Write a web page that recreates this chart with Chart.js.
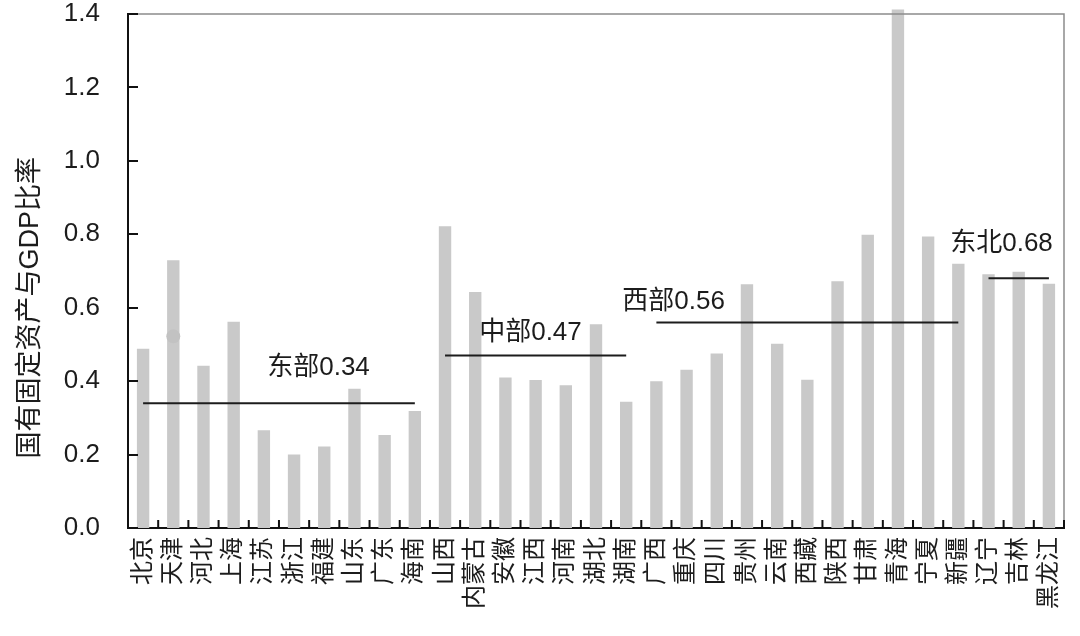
<!DOCTYPE html>
<html>
<head>
<meta charset="utf-8">
<script src="https://cdn.jsdelivr.net/npm/chart.js@4.4.1/dist/chart.umd.min.js"></script>
<style>
  html, body { margin: 0; padding: 0; background: #ffffff; }
  #wrap { width: 1080px; height: 636px; position: relative; }
</style>
</head>
<body>
<div id="wrap"><canvas id="chart" width="1080" height="636"></canvas></div>
<script>
// Provinces in regional order
const provinces = ['北京','天津','河北','上海','江苏','浙江','福建','山东','广东','海南',
  '山西','内蒙古','安徽','江西','河南','湖北','湖南',
  '广西','重庆','四川','贵州','云南','西藏','陕西','甘肃','青海','宁夏','新疆',
  '辽宁','吉林','黑龙江'];

// State-owned fixed assets / GDP
const ratios = [0.488,0.729,0.442,0.562,0.266,0.200,0.222,0.379,0.253,0.319,
  0.822,0.643,0.410,0.403,0.389,0.555,0.344,
  0.400,0.431,0.475,0.664,0.502,0.404,0.672,0.799,1.412,0.794,0.720,
  0.691,0.698,0.665];

// Region of each province (index into regionNames)
const regionOf = [0,0,0,0,0,0,0,0,0,0, 1,1,1,1,1,1,1, 2,2,2,2,2,2,2,2,2,2,2, 3,3,3];
const regionNames = ['东部','中部','西部','东北'];
const regionMeans = [0.34,0.47,0.56,0.68];

// Single marker drawn over the 天津 bar
const markerValues = [null,0.522];

const yTickValues = [0,0.2,0.4,0.6,0.8,1.0,1.2,1.4];

const FONT = "'Liberation Sans', 'Noto Sans CJK SC', sans-serif";
const INK = '#1c1c1c';

// One horizontal segment per region, spanning that region's provinces
const regionDatasets = regionMeans.map((m, r) => ({
  type: 'line',
  label: regionNames[r],
  data: provinces.map((_, i) => regionOf[i] === r ? m : null),
  borderColor: INK,
  borderWidth: 2,
  pointRadius: 0,
  spanGaps: false,
  order: 0
}));

// Where each region caption sits (category position, value)
const captionSpots = [
  { x: 5.81, y: 0.437 },
  { x: 12.83, y: 0.532 },
  { x: 17.57, y: 0.615 },
  { x: 28.43, y: 0.773 }
];

const decorPlugin = {
  id: 'decor',
  afterDatasetsDraw(chart) {
    const { ctx, chartArea: a, scales: { x, y } } = chart;
    ctx.save();
    // frame: top and right sides
    ctx.strokeStyle = '#8c8c8c';
    ctx.lineWidth = 1.5;
    ctx.beginPath();
    ctx.moveTo(a.left, a.top);
    ctx.lineTo(a.right, a.top);
    ctx.lineTo(a.right, a.bottom);
    ctx.stroke();

    // inward tick marks
    ctx.strokeStyle = '#111';
    ctx.lineWidth = 2;
    ctx.beginPath();
    yTickValues.forEach(v => {
      const py = Math.round(y.getPixelForValue(v));
      ctx.moveTo(a.left, py);
      ctx.lineTo(a.left + 10, py);
    });
    for (let i = 1; i <= provinces.length; i++) {
      const px = x.getPixelForValue(i - 0.5);
      ctx.moveTo(px, a.bottom);
      ctx.lineTo(px, a.bottom - 8);
    }
    ctx.stroke();

    // region captions
    ctx.fillStyle = INK;
    ctx.font = '26px ' + FONT;
    ctx.textAlign = 'center';
    ctx.textBaseline = 'middle';
    captionSpots.forEach((s, r) => {
      ctx.fillText(regionNames[r] + regionMeans[r].toFixed(2),
        x.getPixelForValue(s.x), y.getPixelForValue(s.y));
    });

    // y-axis title
    ctx.translate(31, y.getPixelForValue(0.6));
    ctx.rotate(-Math.PI / 2);
    ctx.font = '27px ' + FONT;
    ctx.fillText('国有固定资产与GDP比率', 0, 0);
    ctx.restore();
  }
};

new Chart(document.getElementById('chart'), {
  type: 'bar',
  data: {
    labels: provinces,
    datasets: [
      {
        label: '国有固定资产与GDP比率',
        data: ratios,
        backgroundColor: '#c9c9c9',
        borderWidth: 0,
        barPercentage: 0.41,
        categoryPercentage: 1.0,
        clip: false,
        order: 2
      },
      {
        type: 'line',
        label: 'marker',
        data: markerValues,
        showLine: false,
        pointRadius: 7,
        pointBackgroundColor: '#c2c2c2',
        pointBorderWidth: 0,
        order: 1
      },
      ...regionDatasets
    ]
  },
  options: {
    responsive: false,
    animation: false,
    devicePixelRatio: 1,
    layout: { autoPadding: false, padding: { top: 14, right: 16, bottom: 0, left: 0 } },
    plugins: {
      legend: { display: false },
      tooltip: { enabled: false },
      title: { display: false }
    },
    scales: {
      x: {
        offset: true,
        grid: { display: false, drawTicks: false },
        border: { display: true, color: '#111', width: 2 },
        ticks: {
          autoSkip: false,
          maxRotation: 90,
          minRotation: 90,
          padding: 9,
          color: INK,
          font: { family: FONT, size: 24 }
        },
        afterFit(s) {
          s.height = 108;
          s.paddingLeft = 0; s.paddingRight = 0; s.paddingTop = 0; s.paddingBottom = 0;
        }
      },
      y: {
        min: 0,
        max: 1.4,
        grid: { display: false, drawTicks: false },
        border: { display: true, color: '#111', width: 2 },
        ticks: {
          stepSize: 0.2,
          padding: 28,
          color: INK,
          font: { family: FONT, size: 26 },
          callback: v => Number(v).toFixed(1)
        },
        afterFit(s) {
          s.width = 128;
          s.paddingLeft = 0; s.paddingRight = 0; s.paddingTop = 0; s.paddingBottom = 0;
        }
      }
    }
  },
  plugins: [decorPlugin]
});
</script>
</body>
</html>
